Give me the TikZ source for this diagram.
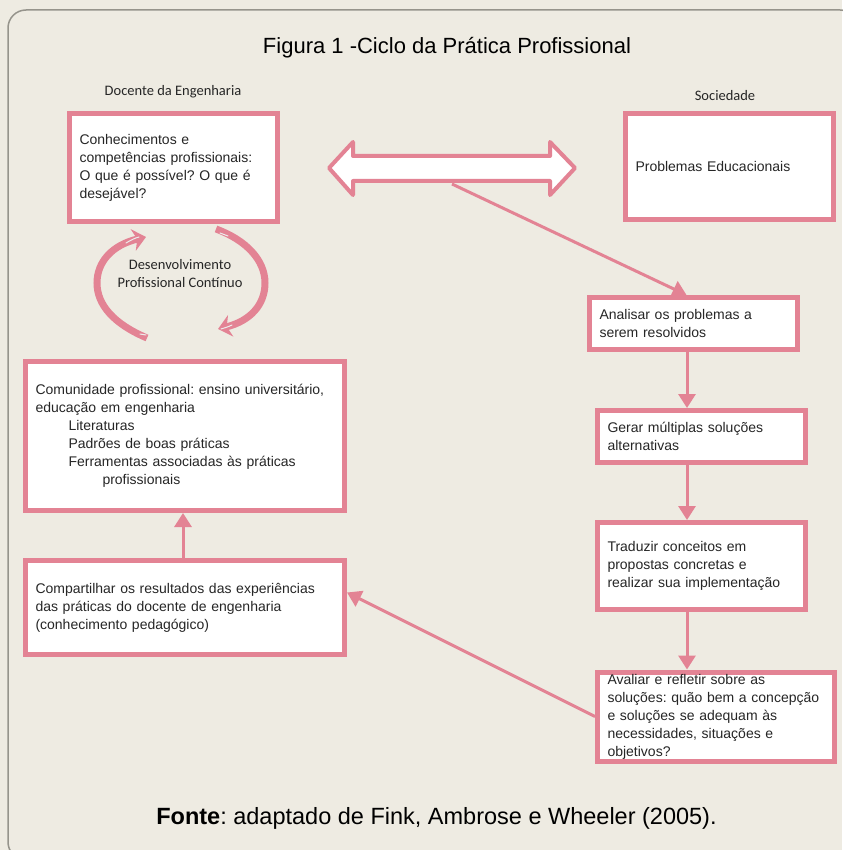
\documentclass[tikz,border=0pt]{standalone}
\usepackage{fontspec}
\setmainfont{Liberation Sans}
\newfontfamily\calib{Carlito}
\usetikzlibrary{arrows.meta}
\definecolor{pinkc}{RGB}{227,131,148}
\definecolor{bgc}{RGB}{238,235,226}
\definecolor{framec}{RGB}{150,148,140}
\newcommand{\boxfont}{\fontsize{14pt}{18pt}\selectfont}
\frenchspacing
\begin{document}
\begin{tikzpicture}[x=1pt,y=-1pt,
  box/.style={draw=pinkc, line width=5pt, fill=white, inner xsep=10pt, inner ysep=0pt,
    align=left, font=\boxfont, text=black!85},
  conn/.style={draw=pinkc, line width=3pt, -{Triangle[length=14pt,width=17pt]}},
  cyc/.style={draw=pinkc, line width=7pt, -{Stealth[length=13pt,width=22pt,inset=4pt]}},
  hl/.style={draw=white!85!gray, line width=1pt, line cap=round},
  lbl/.style={font=\calib\fontsize{14.5pt}{18pt}\selectfont, text=black!85, align=center}]
\useasboundingbox (0,0) rectangle (842,850);
\fill[bgc] (0,0) rectangle (842,850);
\draw[framec, line width=1.5pt, rounded corners=18pt] (8,10) rectangle (858,860);

\node (title) at (447,48) {\fontsize{22pt}{26pt}\selectfont Figura 1 -Ciclo da Prática Profissional};
\node[lbl] (docente) at (173,92) {Docente da Engenharia};
\node[lbl] (soc) at (725,96) {Sociedade};

% boxes
\node[box, minimum width=208pt, minimum height=108pt, text width=188pt] (conh) at (173.5,167.5)
  {Conhecimentos e\\competências profissionais:\\O que é possível? O que é\\desejável?};
\node[box, minimum width=208pt, minimum height=106pt, text width=188pt] (prob) at (729.5,166.5)
  {Problemas Educacionais};
\node[box, minimum width=208pt, minimum height=52pt, text width=188pt] (ana) at (693.5,323.5)
  {Analisar os problemas a\\serem resolvidos};
\node[box, minimum width=208pt, minimum height=52pt, text width=188pt] (ger) at (701.5,436.5)
  {Gerar múltiplas soluções\\alternativas};
\node[box, minimum width=208pt, minimum height=87pt, text width=188pt] (trad) at (701.5,566)
  {Traduzir conceitos em\\propostas concretas e\\realizar sua implementação};
\node[box, minimum width=237pt, minimum height=89pt, text width=217pt] (ava) at (716,716.5)
  {Avaliar e refletir sobre as\\soluções: quão bem a concepção\\e soluções se adequam às\\necessidades, situações e\\objetivos?};
\node[box, minimum width=319pt, minimum height=149pt, text width=299pt] (com) at (185,436)
  {Comunidade profissional: ensino universitário,\\educação em engenharia\\
   \hspace*{33pt}Literaturas\\\hspace*{33pt}Padrões de boas práticas\\
   \hspace*{33pt}Ferramentas associadas às práticas\\\hspace*{67pt}profissionais};
\node[box, minimum width=319pt, minimum height=94pt, text width=299pt] (comp) at (185,607.5)
  {Compartilhar os resultados das experiências\\das práticas do docente de engenharia\\(conhecimento pedagógico)};

% double arrow
\draw[pinkc, fill=white, line width=4pt, line join=round]
  (329,168) -- (353,142) -- (353,156) -- (550,156) -- (550,142) -- (575,168)
  -- (550,195) -- (550,181) -- (353,181) -- (353,195) -- cycle;
\coordinate (dab) at (452,184);

% connectors
\draw[conn] (dab) -- ([xshift=-7pt]ana.north);
\draw[conn] (687,0 |- ana.south) -- (687,0 |- ger.north);
\draw[conn] (687,0 |- ger.south) -- (687,0 |- trad.north);
\draw[conn] (687,0 |- trad.south) -- (687,0 |- ava.north);
\draw[conn] (ava.west) -- ([yshift=15pt]comp.east);
\draw[conn] (183,0 |- comp.north) -- (183,0 |- com.south);

% cycle
\node[lbl] (dpc) at (180,274) {Desenvolvimento\\Profissional Contínuo};
\draw[cyc] (147,338) .. controls (114,324) and (97,305) .. (97,283)
  .. controls (97,262) and (112,245) .. (146,237);
\draw[cyc] (216,229) .. controls (246,240) and (265,260) .. (265,283)
  .. controls (265,305) and (250,321) .. (218,329);
\draw[hl] (126,243) .. controls (131,240) and (135,238) .. (139,237);
\draw[hl] (140,334) -- (146,335);
\draw[hl] (220,233) -- (228,236);
\draw[hl] (232,325) .. controls (228,327) and (224,328) .. (221,329);

\node (fonte) at (436.5,818) {\fontsize{23.5pt}{28pt}\selectfont\textbf{Fonte}: adaptado de Fink, Ambrose e Wheeler (2005).};
\end{tikzpicture}
\end{document}
